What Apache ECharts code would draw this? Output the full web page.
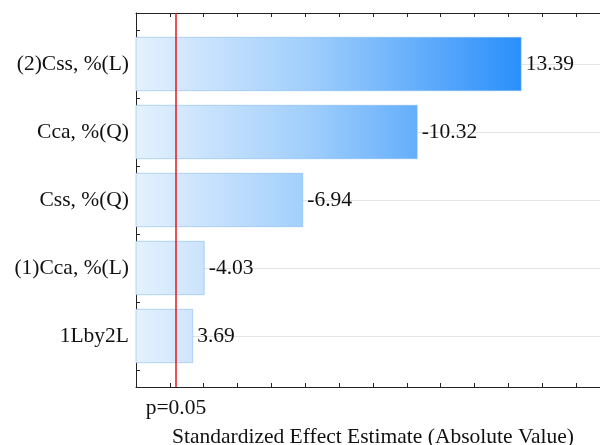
<!DOCTYPE html>
<html>
<head>
<meta charset="utf-8">
<script src="https://cdn.jsdelivr.net/npm/echarts@6/dist/echarts.min.js"></script>
<style>
  html, body { margin: 0; padding: 0; background: #fff; }
  #chart { width: 600px; height: 445px; }
</style>
</head>
<body>
<div id="chart"></div>
<script>
  // factors, top to bottom
  var factors = ['(2)Css, %(L)', 'Cca, %(Q)', 'Css, %(Q)', '(1)Cca, %(L)', '1Lby2L'];
  // signed standardized effects (bar length = absolute value)
  var effects = [13.39, -10.32, -6.94, -4.03, 3.69];
  var pCritical = 3.182;
  var pLabel = 'p=0.05';
  var xMin = 2, xMax = 16;
  var xTitle = 'Standardized Effect Estimate (Absolute Value)';

  var font = 'Liberation Serif';
  var absValues = effects.map(function (v) { return Math.abs(v); });

  var chart = echarts.init(document.getElementById('chart'));

  var frameAxis = {
    axisLine: { lineStyle: { color: '#222', width: 1 } },
    axisTick: { inside: true, length: 4, lineStyle: { color: '#222' } },
    axisLabel: { show: false },
    splitLine: { show: false }
  };

  var option = {
    animation: false,
    backgroundColor: '#fff',
    grid: [
      { left: 136, width: 474, top: 13, height: 374, outerBoundsMode: 'none', containLabel: false },
      { left: 136, width: 474, top: 64, height: 272, outerBoundsMode: 'none', containLabel: false }
    ],
    xAxis: [
      Object.assign({
        type: 'value', gridIndex: 0, min: xMin, max: xMax, interval: 1,
        name: xTitle, nameLocation: 'middle', nameGap: 39,
        nameTextStyle: { fontFamily: font, fontSize: 21.5, color: '#111' }
      }, frameAxis),
      {
        type: 'value', gridIndex: 1, min: xMin, max: xMax, show: false
      },
      Object.assign({
        type: 'value', gridIndex: 0, position: 'top', min: xMin, max: xMax, interval: 1
      }, frameAxis)
    ],
    yAxis: [
      Object.assign({
        type: 'value', gridIndex: 0, min: 0, max: 22, interval: 1
      }, frameAxis),
      {
        type: 'category', gridIndex: 1, data: factors, inverse: true, boundaryGap: false,
        axisLine: { show: false },
        axisTick: { show: false },
        axisLabel: { interval: 0, margin: 7, fontFamily: font, fontSize: 21.5, color: '#111' },
        splitLine: { show: true, interval: 0, lineStyle: { color: '#e4e4e4', width: 1 } }
      }
    ],
    series: [
      {
        id: 'bars',
        type: 'bar',
        xAxisIndex: 1,
        yAxisIndex: 1,
        data: absValues,
        barWidth: '80%',
        clip: true,
        itemStyle: {
          color: '#9fcdfb',
          borderColor: 'rgba(130,185,240,0.55)',
          borderWidth: 1
        },
        label: {
          show: true,
          position: 'right',
          distance: 4,
          fontFamily: font,
          fontSize: 21.5,
          color: '#111',
          formatter: function (p) { return effects[p.dataIndex].toFixed(2); }
        }
      },
      {
        type: 'line',
        xAxisIndex: 0,
        yAxisIndex: 0,
        data: [],
        z: 10,
        markLine: {
          silent: true,
          symbol: 'none',
          lineStyle: { color: '#e31a1a', width: 1.5, type: 'solid' },
          label: {
            position: 'start',
            distance: 10,
            formatter: pLabel,
            fontFamily: font,
            fontSize: 21.5,
            color: '#111'
          },
          data: [{ xAxis: pCritical }]
        }
      }
    ]
  };

  chart.setOption(option);

  // gradient runs across the axis, from the axis start to the longest bar
  var gx0 = chart.convertToPixel({ xAxisIndex: 1 }, xMin);
  var gx1 = chart.convertToPixel({ xAxisIndex: 1 }, Math.max.apply(null, absValues));
  chart.setOption({
    series: [{
      id: 'bars',
      itemStyle: {
        color: new echarts.graphic.LinearGradient(gx0, 0, gx1, 0, [
          { offset: 0, color: '#e5f1fd' },
          { offset: 0.45, color: '#a0cefc' },
          { offset: 1, color: '#2a8ffb' }
        ], true)
      }
    }]
  });
</script>
</body>
</html>
